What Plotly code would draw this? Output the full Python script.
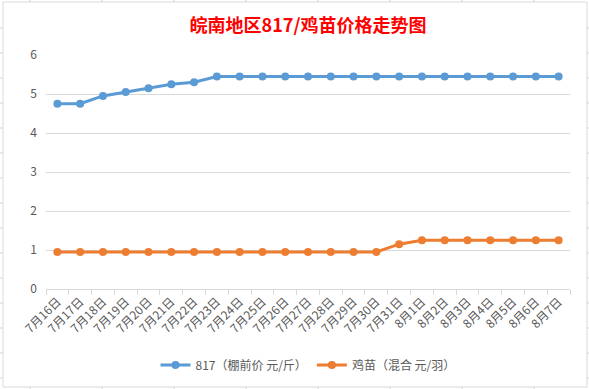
import plotly.graph_objects as go

dates = ["7月16日", "7月17日", "7月18日", "7月19日", "7月20日", "7月21日", "7月22日",
         "7月23日", "7月24日", "7月25日", "7月26日", "7月27日", "7月28日", "7月29日",
         "7月30日", "7月31日", "8月1日", "8月2日", "8月3日", "8月4日", "8月5日",
         "8月6日", "8月7日"]
price_817 = [4.75, 4.75, 4.95, 5.05, 5.15, 5.25, 5.3, 5.45, 5.45, 5.45, 5.45, 5.45,
             5.45, 5.45, 5.45, 5.45, 5.45, 5.45, 5.45, 5.45, 5.45, 5.45, 5.45]
price_chick = [0.95, 0.95, 0.95, 0.95, 0.95, 0.95, 0.95, 0.95, 0.95, 0.95, 0.95, 0.95,
               0.95, 0.95, 0.95, 1.15, 1.25, 1.25, 1.25, 1.25, 1.25, 1.25, 1.25]
name_817 = "817（棚前价 元/斤）"
name_chick = "鸡苗（混合 元/羽）"
title_text = "皖南地区817/鸡苗价格走势图"

W, H = 589, 389
L, R, T, B = 46, 19, 55, 100
PW, PH = W - L - R, H - T - B

def px(x):
    return (x - L) / PW

def py(y):
    return (H - B - y) / PH

FONT = "Noto Sans CJK SC"
GRAY = "#595959"

fig = go.Figure()
fig.add_trace(go.Scatter(x=dates, y=price_817, name=name_817, mode="lines+markers",
                         line=dict(color="#5b9bd5", width=3),
                         marker=dict(size=8, color="#5b9bd5")))
fig.add_trace(go.Scatter(x=dates, y=price_chick, name=name_chick, mode="lines+markers",
                         line=dict(color="#ed7d31", width=3),
                         marker=dict(size=8, color="#ed7d31")))

shapes = []
# chart border
shapes.append(dict(type="rect", xref="paper", yref="paper",
                   x0=px(3), x1=px(587), y0=py(2), y1=py(387),
                   line=dict(color="#d9d9d9", width=1), fillcolor="rgba(0,0,0,0)", layer="below"))
# spreadsheet grid stubs outside the chart
gy = 28
while gy < H:
    shapes.append(dict(type="line", xref="paper", yref="paper", x0=px(0), x1=px(3), y0=py(gy), y1=py(gy),
                       line=dict(color="#d4d4d4", width=1)))
    shapes.append(dict(type="line", xref="paper", yref="paper", x0=px(587), x1=px(589), y0=py(gy), y1=py(gy),
                       line=dict(color="#d4d4d4", width=1)))
    gy += 25
gx = 30
while gx < W:
    shapes.append(dict(type="line", xref="paper", yref="paper", x0=px(gx), x1=px(gx), y0=py(0), y1=py(2),
                       line=dict(color="#d4d4d4", width=1)))
    shapes.append(dict(type="line", xref="paper", yref="paper", x0=px(gx), x1=px(gx), y0=py(387), y1=py(389),
                       line=dict(color="#d4d4d4", width=1)))
    gx += 72

fig.update_layout(
    width=W, height=H,
    margin=dict(l=L, r=R, t=T, b=B, autoexpand=False),
    paper_bgcolor="white", plot_bgcolor="white",
    font=dict(family=FONT, size=12, color=GRAY),
    title=dict(text="<b>" + title_text + "</b>", x=0.5, xanchor="center",
               xref="paper", yref="container",
               y=1 - 26 / H, yanchor="middle",
               font=dict(family=FONT, size=18, color="#ff0000")),
    showlegend=True,
    legend=dict(orientation="h", x=0.5, xanchor="center", y=py(365), yanchor="middle",
                font=dict(family=FONT, size=12, color=GRAY), bgcolor="rgba(0,0,0,0)",
                itemwidth=30),
    shapes=shapes,
)
fig.update_xaxes(type="category", range=[-0.5, len(dates) - 0.5], tickangle=-45,
                 tickson="boundaries", ticks="outside",
                 ticklen=5, tickcolor="#d9d9d9", showgrid=False, showline=True, automargin=False,
                 linecolor="#d9d9d9", linewidth=1, tickfont=dict(family=FONT, size=12, color=GRAY),
                 zeroline=False)
fig.update_yaxes(range=[0, 6], dtick=1, showgrid=True, gridcolor="#d9d9d9", gridwidth=1,
                 showline=False, zeroline=False, ticks="", ticklabelstandoff=8, automargin=False,
                 tickfont=dict(family=FONT, size=12, color=GRAY))

fig.write_html("out.html", config={"displayModeBar": False},
               post_script="document.body.style.margin='0';document.body.style.overflow='hidden';")
